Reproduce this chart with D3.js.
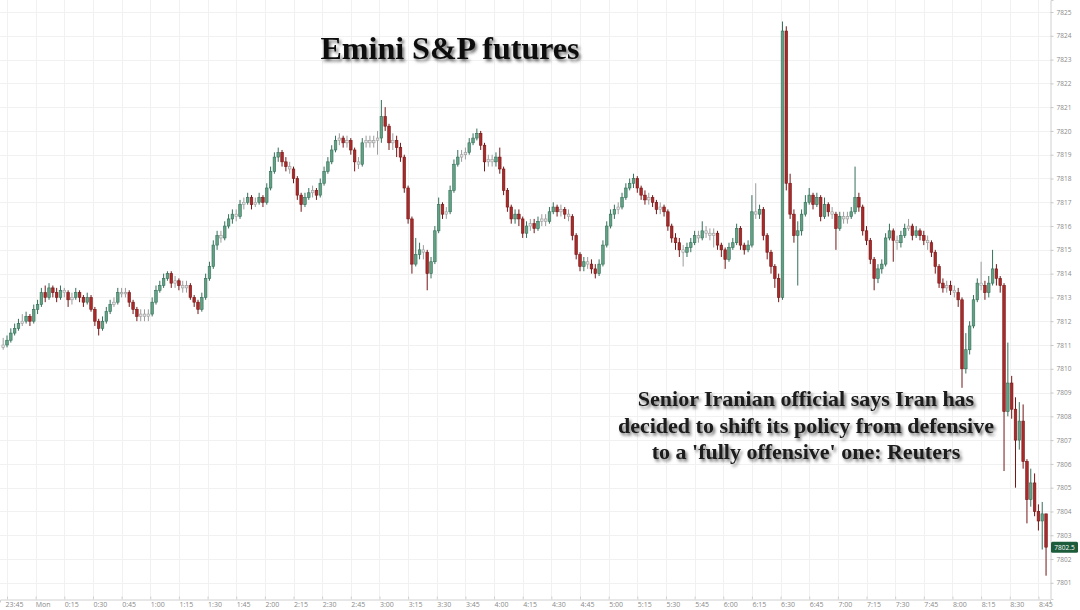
<!DOCTYPE html>
<html>
<head>
<meta charset="utf-8">
<script src="https://cdn.jsdelivr.net/npm/d3@7.9.0/dist/d3.min.js"></script>
<style>
  html, body { margin: 0; padding: 0; background: #fff; }
  svg { display: block; }
  .axis text { font-family: "Open Sans", "Noto Sans", sans-serif; fill: #8a8a8a; }
  .serif { font-family: "Liberation Serif", "DejaVu Serif", serif; font-weight: bold; }
</style>
</head>
<body>
<svg id="chart" width="1080" height="610"></svg>
<script>
// 2-minute bars of Emini S&P futures (first bar 23:43, last 8:49)
const opens = [
  7810.9, 7811.0, 7811.2, 7811.5, 7811.7, 7811.9, 7812.0, 7812.2, 7812.0, 7812.5,
  7812.7, 7813.2, 7813.0, 7813.4, 7813.2, 7813.0, 7813.3, 7813.2, 7812.9, 7813.0,
  7813.2, 7813.0, 7812.8, 7813.0, 7812.5, 7812.0, 7811.7, 7812.0, 7812.4, 7812.7,
  7812.8, 7813.2, 7813.2, 7813.2, 7812.8, 7812.5, 7812.2, 7812.3, 7812.2, 7812.3,
  7812.8, 7813.3, 7813.5, 7813.8, 7814.0, 7813.6, 7813.7, 7813.5, 7813.4, 7813.5,
  7813.0, 7812.8, 7812.5, 7813.0, 7813.8, 7814.3, 7815.2, 7815.6, 7815.5, 7816.0,
  7816.3, 7816.5, 7816.4, 7816.9, 7817.0, 7817.2, 7816.9, 7817.0, 7817.2, 7817.0,
  7817.6, 7818.3, 7818.9, 7819.1, 7818.7, 7818.5, 7818.4, 7818.0, 7817.3, 7816.9,
  7817.2, 7817.4, 7817.5, 7817.3, 7817.8, 7818.3, 7818.7, 7819.2, 7819.6, 7819.7,
  7819.5, 7819.6, 7819.2, 7818.7, 7818.6, 7819.5, 7819.6, 7819.5, 7819.6, 7819.7,
  7820.6, 7820.2, 7819.5, 7819.6, 7819.3, 7818.9, 7817.6, 7816.3, 7814.4, 7814.8,
  7815.0, 7814.9, 7814.0, 7814.5, 7815.8, 7816.9, 7816.5, 7816.6, 7817.5, 7818.6,
  7818.9, 7819.0, 7819.1, 7819.5, 7819.7, 7819.9, 7819.4, 7818.7, 7818.8, 7818.7,
  7818.9, 7818.4, 7817.5, 7816.8, 7816.3, 7816.5, 7816.3, 7815.7, 7816.0, 7816.1,
  7815.9, 7816.2, 7816.3, 7816.2, 7816.6, 7816.8, 7816.6, 7816.7, 7816.5, 7816.4,
  7815.6, 7814.8, 7814.3, 7814.5, 7814.4, 7814.2, 7814.0, 7814.4, 7815.2, 7816.0,
  7816.5, 7816.7, 7816.8, 7817.2, 7817.6, 7817.8, 7818.0, 7817.6, 7817.3, 7817.1,
  7817.2, 7817.0, 7816.7, 7816.8, 7816.6, 7816.0, 7815.5, 7815.3, 7815.0, 7814.9,
  7815.1, 7815.3, 7815.6, 7815.5, 7815.8, 7815.7, 7815.6, 7815.7, 7815.2, 7815.0,
  7814.6, 7815.1, 7815.3, 7815.9, 7815.2, 7815.0, 7815.2, 7816.6, 7816.5, 7816.7,
  7815.6, 7814.9, 7814.3, 7813.8, 7813.0, 7824.2, 7817.8, 7816.5, 7815.6, 7815.8,
  7816.5, 7817.0, 7817.3, 7816.9, 7817.2, 7816.4, 7816.9, 7816.6, 7816.5, 7815.9,
  7816.4, 7816.3, 7816.4, 7816.6, 7817.2, 7816.8, 7815.8, 7815.4, 7814.6, 7813.8,
  7814.2, 7814.4, 7815.5, 7815.8, 7815.4, 7815.3, 7815.6, 7815.9, 7816.0, 7815.6,
  7815.8, 7815.6, 7815.4, 7815.3, 7814.9, 7814.3, 7813.6, 7813.4, 7813.5, 7813.3,
  7813.2, 7812.9, 7810.0, 7810.8, 7811.8, 7812.9, 7813.6, 7813.5, 7813.2, 7813.6,
  7814.2, 7813.8, 7813.5, 7808.2, 7809.4, 7808.3, 7807.0, 7807.8, 7806.1, 7804.5,
  7805.2, 7804.0, 7803.6, 7803.9
];
const highs = [
  7811.3, 7811.4, 7811.7, 7811.9, 7812.1, 7812.3, 7812.4, 7812.3, 7812.7, 7812.9,
  7813.4, 7813.5, 7813.6, 7813.5, 7813.4, 7813.5, 7813.4, 7813.3, 7813.2, 7813.4,
  7813.3, 7813.1, 7813.2, 7813.1, 7812.6, 7812.1, 7812.2, 7812.6, 7812.9, 7813.0,
  7813.4, 7813.4, 7813.4, 7813.3, 7812.9, 7812.6, 7812.5, 7812.5, 7812.5, 7813.0,
  7813.5, 7813.7, 7814.0, 7814.1, 7814.1, 7813.9, 7813.8, 7813.7, 7813.7, 7813.6,
  7813.1, 7812.9, 7813.2, 7814.0, 7814.5, 7815.4, 7815.8, 7815.8, 7816.2, 7816.5,
  7816.7, 7816.7, 7817.1, 7817.2, 7817.4, 7817.3, 7817.2, 7817.4, 7817.3, 7817.8,
  7818.5, 7819.1, 7819.3, 7819.2, 7818.9, 7818.7, 7818.5, 7818.1, 7817.4, 7817.4,
  7817.6, 7817.7, 7817.6, 7818.0, 7818.5, 7818.9, 7819.4, 7819.8, 7819.9, 7819.8,
  7819.8, 7819.7, 7819.3, 7818.9, 7819.7, 7819.8, 7819.8, 7819.8, 7820.0, 7821.3,
  7821.0, 7820.3, 7819.9, 7819.8, 7819.5, 7819.0, 7817.7, 7816.4, 7815.5, 7815.3,
  7815.2, 7815.0, 7814.7, 7816.0, 7817.2, 7817.0, 7816.8, 7817.7, 7818.8, 7819.2,
  7819.2, 7819.3, 7819.7, 7819.9, 7820.1, 7820.0, 7819.5, 7819.0, 7819.0, 7819.1,
  7819.3, 7818.5, 7817.6, 7816.9, 7816.7, 7816.7, 7816.4, 7816.2, 7816.3, 7816.3,
  7816.4, 7816.5, 7816.5, 7816.8, 7817.0, 7816.9, 7816.9, 7816.8, 7816.7, 7816.5,
  7815.7, 7814.9, 7814.7, 7814.7, 7814.6, 7814.4, 7814.6, 7815.4, 7816.2, 7816.7,
  7816.9, 7817.0, 7817.4, 7817.8, 7818.0, 7818.2, 7818.1, 7817.7, 7817.5, 7817.4,
  7817.3, 7817.1, 7817.0, 7816.9, 7816.7, 7816.1, 7815.7, 7815.5, 7815.2, 7815.3,
  7815.5, 7815.8, 7815.8, 7816.2, 7816.0, 7815.9, 7815.9, 7815.8, 7815.3, 7815.1,
  7815.3, 7815.5, 7816.1, 7816.0, 7815.3, 7815.4, 7817.3, 7817.8, 7816.9, 7816.8,
  7815.7, 7815.0, 7814.4, 7814.0, 7824.6, 7824.4, 7818.2, 7816.7, 7816.2, 7816.7,
  7817.3, 7817.6, 7817.4, 7817.4, 7817.3, 7817.2, 7817.0, 7816.8, 7816.6, 7816.6,
  7816.6, 7816.6, 7816.8, 7818.5, 7817.4, 7816.9, 7816.0, 7815.5, 7814.7, 7814.4,
  7814.6, 7815.7, 7816.1, 7815.9, 7815.6, 7815.8, 7816.1, 7816.3, 7816.1, 7816.0,
  7815.9, 7815.8, 7815.6, 7815.4, 7815.0, 7814.4, 7813.8, 7813.7, 7813.7, 7813.5,
  7813.4, 7813.0, 7811.5, 7812.0, 7813.1, 7813.8, 7814.5, 7813.7, 7813.9, 7815.0,
  7814.4, 7813.9, 7813.6, 7811.1, 7809.7, 7808.8, 7808.6, 7808.5, 7806.2, 7805.8,
  7805.6, 7804.3, 7804.4, 7803.9
];
const lows = [
  7810.8, 7810.9, 7811.1, 7811.4, 7811.6, 7811.8, 7811.9, 7811.8, 7811.9, 7812.3,
  7812.6, 7812.8, 7812.9, 7813.0, 7812.8, 7812.9, 7813.0, 7812.6, 7812.7, 7812.9,
  7812.8, 7812.6, 7812.7, 7812.4, 7811.8, 7811.4, 7811.6, 7811.9, 7812.3, 7812.6,
  7812.7, 7813.0, 7813.0, 7812.6, 7812.3, 7812.0, 7812.0, 7812.0, 7812.0, 7812.2,
  7812.7, 7813.2, 7813.4, 7813.7, 7813.4, 7813.4, 7813.3, 7813.2, 7813.2, 7812.9,
  7812.6, 7812.3, 7812.4, 7812.9, 7813.7, 7814.2, 7815.0, 7815.3, 7815.4, 7815.9,
  7816.1, 7816.2, 7816.3, 7816.7, 7816.9, 7816.7, 7816.8, 7816.9, 7816.8, 7816.9,
  7817.5, 7818.2, 7818.7, 7818.5, 7818.3, 7818.2, 7817.8, 7817.1, 7816.6, 7816.8,
  7817.1, 7817.2, 7817.1, 7817.2, 7817.7, 7818.2, 7818.6, 7819.1, 7819.4, 7819.3,
  7819.3, 7819.0, 7818.3, 7818.4, 7818.5, 7819.3, 7819.3, 7819.3, 7819.0, 7819.5,
  7820.0, 7819.2, 7819.2, 7818.9, 7818.7, 7817.4, 7816.1, 7814.0, 7814.3, 7814.6,
  7814.6, 7813.3, 7813.8, 7814.4, 7815.7, 7816.3, 7816.3, 7816.5, 7817.4, 7818.5,
  7818.7, 7818.8, 7819.0, 7819.4, 7819.6, 7819.2, 7818.3, 7818.5, 7818.5, 7818.5,
  7818.2, 7817.3, 7816.6, 7816.1, 7816.1, 7816.0, 7815.5, 7815.5, 7815.8, 7815.7,
  7815.8, 7816.0, 7816.0, 7816.1, 7816.5, 7816.4, 7816.4, 7816.3, 7816.2, 7815.4,
  7814.6, 7814.1, 7814.1, 7814.2, 7814.0, 7813.8, 7813.9, 7814.3, 7815.1, 7815.9,
  7816.3, 7816.5, 7816.7, 7817.1, 7817.5, 7817.6, 7817.4, 7817.1, 7816.9, 7816.9,
  7816.8, 7816.5, 7816.5, 7816.4, 7815.8, 7815.3, 7815.0, 7814.7, 7814.3, 7814.7,
  7814.9, 7815.2, 7815.3, 7815.4, 7815.5, 7815.4, 7815.1, 7815.0, 7814.7, 7814.2,
  7814.5, 7815.0, 7815.2, 7815.0, 7814.8, 7814.9, 7815.1, 7816.3, 7816.3, 7815.4,
  7814.6, 7814.0, 7813.4, 7812.8, 7812.9, 7817.5, 7816.3, 7815.3, 7813.5, 7815.6,
  7816.4, 7816.9, 7816.7, 7816.8, 7816.2, 7816.3, 7816.4, 7816.3, 7815.0, 7815.8,
  7816.1, 7816.1, 7816.3, 7816.5, 7816.6, 7815.6, 7815.2, 7814.4, 7813.3, 7813.6,
  7814.0, 7814.3, 7815.4, 7814.5, 7815.0, 7815.1, 7815.5, 7815.8, 7815.4, 7815.5,
  7815.4, 7815.2, 7815.0, 7814.7, 7814.0, 7813.4, 7813.2, 7813.2, 7813.1, 7813.0,
  7812.6, 7809.2, 7809.8, 7810.6, 7811.7, 7812.8, 7813.3, 7812.9, 7813.0, 7813.5,
  7813.5, 7813.2, 7805.7, 7808.0, 7807.9, 7805.0, 7806.6, 7805.8, 7803.5, 7804.2,
  7803.8, 7803.2, 7802.4, 7801.3
];
const closes = [
  7811.0, 7811.2, 7811.5, 7811.7, 7811.9, 7812.0, 7812.2, 7812.0, 7812.5, 7812.7,
  7813.2, 7813.0, 7813.4, 7813.2, 7813.0, 7813.3, 7813.2, 7812.9, 7813.0, 7813.2,
  7813.0, 7812.8, 7813.0, 7812.5, 7812.0, 7811.7, 7812.0, 7812.4, 7812.7, 7812.8,
  7813.2, 7813.2, 7813.2, 7812.8, 7812.5, 7812.2, 7812.3, 7812.2, 7812.3, 7812.8,
  7813.3, 7813.5, 7813.8, 7814.0, 7813.6, 7813.7, 7813.5, 7813.4, 7813.5, 7813.0,
  7812.8, 7812.5, 7813.0, 7813.8, 7814.3, 7815.2, 7815.6, 7815.5, 7816.0, 7816.3,
  7816.5, 7816.4, 7816.9, 7817.0, 7817.2, 7816.9, 7817.0, 7817.2, 7817.0, 7817.6,
  7818.3, 7818.9, 7819.1, 7818.7, 7818.5, 7818.4, 7818.0, 7817.3, 7816.9, 7817.2,
  7817.4, 7817.5, 7817.3, 7817.8, 7818.3, 7818.7, 7819.2, 7819.6, 7819.7, 7819.5,
  7819.6, 7819.2, 7818.7, 7818.6, 7819.5, 7819.6, 7819.5, 7819.6, 7819.7, 7820.6,
  7820.2, 7819.5, 7819.6, 7819.3, 7818.9, 7817.6, 7816.3, 7814.4, 7814.8, 7815.0,
  7814.9, 7814.0, 7814.5, 7815.8, 7816.9, 7816.5, 7816.6, 7817.5, 7818.6, 7818.9,
  7819.0, 7819.1, 7819.5, 7819.7, 7819.9, 7819.4, 7818.7, 7818.8, 7818.7, 7818.9,
  7818.4, 7817.5, 7816.8, 7816.3, 7816.5, 7816.3, 7815.7, 7816.0, 7816.1, 7815.9,
  7816.2, 7816.3, 7816.2, 7816.6, 7816.8, 7816.6, 7816.7, 7816.5, 7816.4, 7815.6,
  7814.8, 7814.3, 7814.5, 7814.4, 7814.2, 7814.0, 7814.4, 7815.2, 7816.0, 7816.5,
  7816.7, 7816.8, 7817.2, 7817.6, 7817.8, 7818.0, 7817.6, 7817.3, 7817.1, 7817.2,
  7817.0, 7816.7, 7816.8, 7816.6, 7816.0, 7815.5, 7815.3, 7815.0, 7814.9, 7815.1,
  7815.3, 7815.6, 7815.5, 7815.8, 7815.7, 7815.6, 7815.7, 7815.2, 7815.0, 7814.6,
  7815.1, 7815.3, 7815.9, 7815.2, 7815.0, 7815.2, 7816.6, 7816.5, 7816.7, 7815.6,
  7814.9, 7814.3, 7813.8, 7813.0, 7824.2, 7817.8, 7816.5, 7815.6, 7815.8, 7816.5,
  7817.0, 7817.3, 7816.9, 7817.2, 7816.4, 7816.9, 7816.6, 7816.5, 7815.9, 7816.4,
  7816.3, 7816.4, 7816.6, 7817.2, 7816.8, 7815.8, 7815.4, 7814.6, 7813.8, 7814.2,
  7814.4, 7815.5, 7815.8, 7815.4, 7815.3, 7815.6, 7815.9, 7816.0, 7815.6, 7815.8,
  7815.6, 7815.4, 7815.3, 7814.9, 7814.3, 7813.6, 7813.4, 7813.5, 7813.3, 7813.2,
  7812.9, 7810.0, 7810.8, 7811.8, 7812.9, 7813.6, 7813.5, 7813.2, 7813.6, 7814.2,
  7813.8, 7813.5, 7808.2, 7809.4, 7808.3, 7807.0, 7807.8, 7806.1, 7804.5, 7805.2,
  7804.0, 7803.6, 7803.9, 7802.5
];
const priceTicks = [7801, 7802, 7803, 7804, 7805, 7806, 7807, 7808, 7809, 7810, 7811, 7812, 7813,
  7814, 7815, 7816, 7817, 7818, 7819, 7820, 7821, 7822, 7823, 7824, 7825];
const lastPrice = 7802.5;
const titleText = "Emini S&P futures";
const noteLines = [
  "Senior Iranian official says Iran has",
  "decided to shift its policy from defensive",
  "to a 'fully offensive' one: Reuters"
];

const svg = d3.select("#chart");
const plotRight = 1050, plotBottom = 599;

// session clock: bars every 2 minutes starting Sunday 23:43
const firstBar = new Date(2025, 5, 15, 23, 43);
const firstTick = new Date(2025, 5, 15, 23, 45);
const bars = closes.map((c, i) => ({
  t: d3.timeMinute.offset(firstBar, 2 * i), o: opens[i], h: highs[i], l: lows[i], c
}));

const x = d3.scaleTime()
  .domain([d3.timeSecond.offset(firstTick, -220), d3.timeSecond.offset(firstTick, 32764)])
  .range([0, plotRight]);
const y = d3.scaleLinear().domain([7800.32, 7825.505]).range([plotBottom, 0]);

const xTicks = d3.timeMinute.every(15).range(x.domain()[0], x.domain()[1]);

// faint grid
const grid = svg.append("g").attr("class", "grid");
grid.selectAll("line.h").data(priceTicks).join("line")
  .attr("class", "h")
  .attr("x1", 0).attr("x2", plotRight)
  .attr("y1", d => Math.round(y(d)) + 0.5).attr("y2", d => Math.round(y(d)) + 0.5)
  .attr("stroke", "#f1f1f1");
grid.selectAll("line.v").data(xTicks).join("line")
  .attr("class", "v")
  .attr("x1", d => Math.round(x(d)) + 0.5).attr("x2", d => Math.round(x(d)) + 0.5)
  .attr("y1", 0).attr("y2", plotBottom)
  .attr("stroke", "#f1f1f1");

// axes
const fmtTime = d => (d.getHours() === 0 && d.getMinutes() === 0) ? "Mon" : d3.timeFormat("%-H:%M")(d);
const xAxis = svg.append("g").attr("class", "axis")
  .attr("transform", `translate(0,${plotBottom + 0.5})`)
  .call(d3.axisBottom(x).tickValues(xTicks).tickSize(3).tickFormat(fmtTime));
xAxis.select(".domain").attr("stroke", "#d0d0d0");
xAxis.selectAll(".tick line").attr("stroke", "#d0d0d0").attr("y2", -3);
xAxis.selectAll(".tick text").attr("font-size", 7).attr("dx", 7).attr("dy", "0.25em");

const yAxis = svg.append("g").attr("class", "axis")
  .attr("transform", `translate(${plotRight + 0.5},0)`)
  .call(d3.axisRight(y).tickValues(priceTicks).tickSize(3).tickPadding(3).tickFormat(d3.format("d")));
yAxis.select(".domain").attr("stroke", "#d0d0d0");
yAxis.selectAll(".tick line").attr("stroke", "#c8c8c8");
yAxis.selectAll(".tick text").attr("font-size", 6.5);

// candles
const bodyW = 2.6;
const style = d => {
  if (Math.abs(d.c - d.o) < 0.15) return { fill: "#e4e4e4", stroke: "#9c9c9c" };
  return d.c > d.o ? { fill: "#63a184", stroke: "#34705a" } : { fill: "#aa2a2a", stroke: "#741616" };
};
const candles = svg.append("g").attr("class", "candles");
const cg = candles.selectAll("g").data(bars).join("g");
cg.append("line")
  .attr("x1", d => x(d.t)).attr("x2", d => x(d.t))
  .attr("y1", d => y(d.h)).attr("y2", d => y(d.l))
  .attr("stroke", d => style(d).stroke).attr("stroke-width", 1);
cg.append("rect")
  .attr("x", d => x(d.t) - bodyW / 2)
  .attr("y", d => y(Math.max(d.o, d.c)))
  .attr("width", bodyW)
  .attr("height", d => Math.max(1.2, Math.abs(y(d.o) - y(d.c))))
  .attr("fill", d => style(d).fill)
  .attr("stroke", d => style(d).stroke).attr("stroke-width", 0.6);

// last price tag
const tag = svg.append("g").attr("transform", `translate(${plotRight + 1},${y(lastPrice)})`);
tag.append("rect").attr("x", 0).attr("y", -5.5).attr("width", 27).attr("height", 11).attr("rx", 1.5)
  .attr("fill", "#1d5c3b");
tag.append("text").attr("x", 13.5).attr("y", 2.4).attr("text-anchor", "middle")
  .attr("font-family", "Open Sans, sans-serif").attr("font-size", 6.5).attr("fill", "#fff")
  .text(d3.format(".1f")(lastPrice));

// shadowed serif captions
const defs = svg.append("defs");
defs.append("filter").attr("id", "shadow").attr("x", "-10%").attr("y", "-30%").attr("width", "120%").attr("height", "160%")
  .append("feDropShadow").attr("dx", 2).attr("dy", 2.5).attr("stdDeviation", 1.7)
  .attr("flood-color", "#000").attr("flood-opacity", 0.55);

svg.append("text").attr("class", "serif")
  .attr("x", 450).attr("y", 59).attr("text-anchor", "middle")
  .attr("font-size", 32).attr("fill", "#111").attr("filter", "url(#shadow)")
  .text(titleText);

svg.append("g").selectAll("text").data(noteLines).join("text")
  .attr("class", "serif")
  .attr("x", 806).attr("y", (d, i) => 406 + i * 26.5).attr("text-anchor", "middle")
  .attr("font-size", 22).attr("fill", "#1a1a1a").attr("filter", "url(#shadow)")
  .text(d => d);
</script>
</body>
</html>
